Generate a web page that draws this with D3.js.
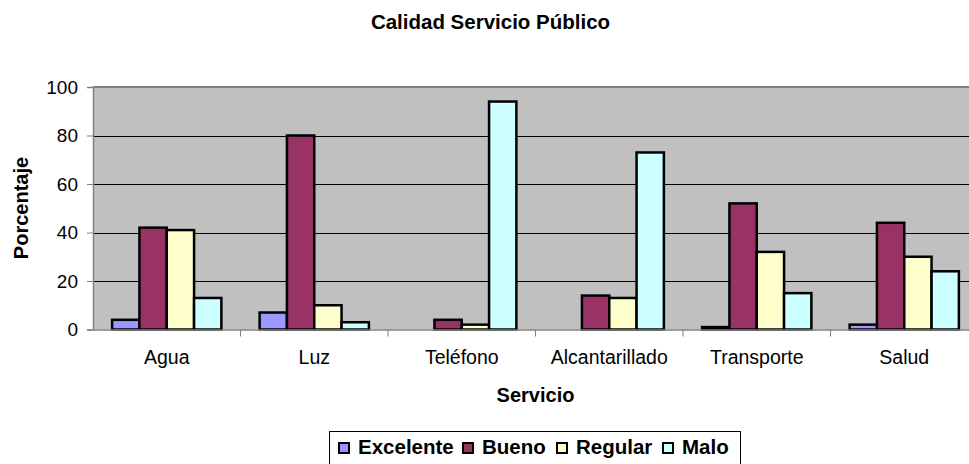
<!DOCTYPE html>
<html>
<head>
<meta charset="utf-8">
<script src="https://cdn.jsdelivr.net/npm/d3@7"></script>
<style>
  body { margin: 0; background: #fff; }
  svg { display: block; font-family: Arial, "Liberation Sans", sans-serif; }
</style>
</head>
<body>
<svg id="chart" width="969" height="464"></svg>
<script>
// data
const servicios = ["Agua", "Luz", "Teléfono", "Alcantarillado", "Transporte", "Salud"];
const series = ["Excelente", "Bueno", "Regular", "Malo"];
const excelente = [4, 7, 0, 0, 1, 2];
const bueno = [42, 80, 4, 14, 52, 44];
const regular = [41, 10, 2, 13, 32, 30];
const malo = [13, 3, 94, 73, 15, 24];
const colores = ["#9999FF", "#993366", "#FFFFCC", "#CCFFFF"];
const yTicks = [0, 20, 40, 60, 80, 100];

const values = [excelente, bueno, regular, malo];
const rows = servicios.map((s, i) => ({
  servicio: s,
  vals: series.map((k, j) => ({ key: k, value: values[j][i], color: colores[j] }))
}));

const svg = d3.select("#chart");
const plotL = 93, plotR = 978, plotT = 87, plotB = 329.5;
const font = "Arial, 'Liberation Sans', sans-serif";

const x = d3.scaleBand().domain(servicios).range([plotL, plotR]);
const x1 = d3.scaleBand().domain(series).range([0, x.bandwidth()]).paddingOuter(0.7).paddingInner(0);
const y = d3.scaleLinear().domain([0, 100]).range([plotB, plotT]);

// plot background
svg.append("rect")
  .attr("x", plotL).attr("y", plotT)
  .attr("width", plotR - plotL).attr("height", plotB - plotT)
  .attr("fill", "#C0C0C0");
svg.append("line")
  .attr("x1", plotL).attr("x2", plotR).attr("y1", plotT).attr("y2", plotT)
  .attr("stroke", "#808080").attr("stroke-width", 2);

// gridlines
svg.append("g").selectAll("line")
  .data(yTicks.filter(d => d > 0 && d < 100))
  .enter().append("line")
  .attr("x1", plotL).attr("x2", plotR)
  .attr("y1", d => Math.round(y(d)) + 0.5).attr("y2", d => Math.round(y(d)) + 0.5)
  .attr("stroke", "#000").attr("stroke-width", 1);

// bars
const groups = svg.append("g").selectAll("g")
  .data(rows)
  .enter().append("g")
  .attr("transform", d => `translate(${x(d.servicio)},0)`);

groups.selectAll("rect")
  .data(d => d.vals.filter(v => v.value > 0))
  .enter().append("rect")
  .attr("x", d => x1(d.key))
  .attr("y", d => y(d.value))
  .attr("width", x1.bandwidth())
  .attr("height", d => plotB - y(d.value))
  .attr("fill", d => d.color)
  .attr("stroke", "#000")
  .attr("stroke-width", 2.5);

// y axis
const yAxis = svg.append("g")
  .attr("transform", `translate(${plotL},0)`)
  .call(d3.axisLeft(y).tickValues(yTicks).tickSize(6).tickPadding(9));
yAxis.select(".domain").attr("stroke", "#808080").attr("stroke-width", 1.5);
yAxis.selectAll(".tick line").attr("stroke", "#808080");
yAxis.selectAll("text").attr("font-size", 19).attr("fill", "#000").attr("font-family", font);

// x axis
const xAxis = svg.append("g")
  .attr("transform", `translate(0,${plotB})`)
  .call(d3.axisBottom(x).tickSize(0).tickPadding(21));
xAxis.select(".domain").attr("stroke", "#808080").attr("stroke-width", 1.5);
xAxis.selectAll("text").attr("font-size", 19.5).attr("fill", "#000").attr("font-family", font);
// category separators
svg.append("g").selectAll("line")
  .data(servicios.slice(1))
  .enter().append("line")
  .attr("x1", d => x(d)).attr("x2", d => x(d))
  .attr("y1", plotB).attr("y2", plotB + 7)
  .attr("stroke", "#808080").attr("stroke-width", 1);

// titles
svg.append("text")
  .attr("x", 490.5).attr("y", 29)
  .attr("text-anchor", "middle")
  .attr("font-size", 20.5).attr("font-weight", "bold")
  .text("Calidad Servicio Público");
svg.append("text")
  .attr("x", (plotL + plotR) / 2).attr("y", 402)
  .attr("text-anchor", "middle")
  .attr("font-size", 20).attr("font-weight", "bold")
  .text("Servicio");
svg.append("text")
  .attr("transform", "translate(28,208) rotate(-90)")
  .attr("text-anchor", "middle")
  .attr("font-size", 20).attr("font-weight", "bold")
  .text("Porcentaje");

// legend
svg.append("rect")
  .attr("x", 329.5).attr("y", 431.5)
  .attr("width", 411).attr("height", 40)
  .attr("fill", "#fff").attr("stroke", "#000").attr("stroke-width", 1);

const legendX = [338, 462, 556, 662];
const lg = svg.append("g").selectAll("g")
  .data(series)
  .enter().append("g")
  .attr("transform", (d, i) => `translate(${legendX[i]},442)`);
lg.append("rect")
  .attr("x", 1).attr("y", 1)
  .attr("width", 10).attr("height", 10)
  .attr("fill", (d, i) => colores[i])
  .attr("stroke", "#000").attr("stroke-width", 2);
lg.append("text")
  .attr("x", 20).attr("y", 12)
  .attr("font-size", 20.5).attr("font-weight", "bold")
  .text(d => d);
</script>
</body>
</html>
